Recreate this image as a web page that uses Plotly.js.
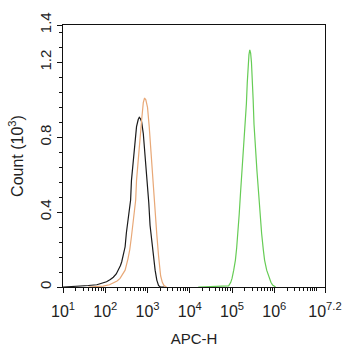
<!DOCTYPE html>
<html>
<head>
<meta charset="utf-8">
<script src="https://cdn.plot.ly/plotly-3.0.1.min.js"></script>
<style>
html,body{margin:0;padding:0;background:#fff;}
#chart{width:342px;height:350px;}
</style>
</head>
<body>
<div id="chart"></div>
<script>
// x values are in decades (log10 of APC-H), y values in thousands of counts
var blackX = [1.0,1.2,1.4,1.6,1.8,1.95,2.03,2.12,2.19,2.26,2.31,2.36,2.39,2.43,2.47,2.5,2.53,2.56,2.6,2.62,2.66,2.7,2.74,2.78,2.805,2.83,2.86,2.9,2.94,2.97,3.0,3.03,3.06,3.1,3.14,3.18,3.22,3.26,3.3,3.4];
var blackY = [0,0.002,0.004,0.008,0.012,0.02,0.028,0.04,0.052,0.07,0.09,0.115,0.135,0.17,0.215,0.29,0.34,0.39,0.465,0.57,0.66,0.77,0.857,0.895,0.907,0.9,0.883,0.82,0.715,0.64,0.55,0.45,0.33,0.24,0.17,0.09,0.037,0.008,0,0];

var orangeX = [1.6,1.8,1.95,2.1,2.19,2.28,2.35,2.42,2.47,2.54,2.58,2.62,2.68,2.72,2.74,2.77,2.8,2.83,2.86,2.9,2.93,2.96,3.0,3.04,3.08,3.11,3.14,3.17,3.19,3.22,3.26,3.29,3.31,3.35,3.39,3.45];
var orangeY = [0,0.002,0.005,0.012,0.02,0.032,0.046,0.068,0.09,0.153,0.2,0.27,0.39,0.465,0.57,0.64,0.715,0.8,0.89,0.985,1.01,1.0,0.96,0.857,0.715,0.62,0.536,0.43,0.358,0.28,0.17,0.1,0.06,0.025,0.008,0];

var greenX = [4.2,4.5,4.8,4.92,4.97,5.0,5.04,5.08,5.11,5.14,5.17,5.2,5.23,5.26,5.29,5.32,5.34,5.36,5.38,5.4,5.42,5.44,5.46,5.48,5.5,5.52,5.55,5.57,5.59,5.63,5.66,5.7,5.74,5.77,5.82,5.87,5.92,5.96,6.03];
var greenY = [0,0.002,0.003,0.006,0.025,0.046,0.09,0.144,0.21,0.287,0.39,0.5,0.6,0.66,0.76,0.875,0.98,1.09,1.18,1.24,1.267,1.25,1.2,1.12,1.0,0.87,0.75,0.68,0.62,0.5,0.39,0.287,0.2,0.144,0.09,0.055,0.025,0.01,0];

var xTickVals = [1,2,3,4,5,6,7.2];
var xTickText = ['10<sup>1</sup>','10<sup>2</sup>','10<sup>3</sup>','10<sup>4</sup>','10<sup>5</sup>','10<sup>6</sup>','10<sup>7.2</sup>'];
var yTickVals = [0,0.4,0.8,1.2,1.4];
var yTickText = ['0','0.4','0.8','1.2','1.4'];

var xMinor = [];
for (var d = 1; d <= 7; d++) {
  for (var k = 2; k <= 9; k++) {
    var v = d + Math.log10(k);
    if (v < 7.2) xMinor.push(v);
  }
}
xMinor.push(7);
var yMinor = [];
for (var i = 0; i <= 17; i++) {
  var yv = Math.round(i * 0.08 * 100) / 100;
  if (yv <= 1.4) yMinor.push(yv);
}

var traces = [
  {x: blackX, y: blackY, mode: 'lines', line: {color: '#1a1a1a', width: 1.2}, hoverinfo: 'skip'},
  {x: orangeX, y: orangeY, mode: 'lines', line: {color: '#e8a877', width: 1.2}, hoverinfo: 'skip'},
  {x: greenX, y: greenY, mode: 'lines', line: {color: '#66cc55', width: 1.2}, hoverinfo: 'skip'}
];

var layout = {
  width: 342, height: 350,
  margin: {l: 63, r: 17, t: 25, b: 63},
  paper_bgcolor: '#fff', plot_bgcolor: '#fff',
  showlegend: false,
  font: {family: 'Liberation Sans, Arial, sans-serif', color: '#222'},
  xaxis: {
    range: [1, 7.2], showgrid: false, zeroline: false,
    showline: true, linecolor: '#111', linewidth: 1, mirror: true,
    tickmode: 'array', tickvals: xTickVals, ticktext: xTickText,
    ticks: 'outside', ticklen: 5, tickcolor: '#111', tickwidth: 1,
    tickangle: 0, ticklabelstandoff: 5,
    tickfont: {size: 16, color: '#222'},
    minor: {tickmode: 'array', tickvals: xMinor, ticks: 'outside', ticklen: 3, tickcolor: '#111', tickwidth: 1},
    title: {text: 'APC-H', font: {size: 15, color: '#222'}, standoff: 14}
  },
  yaxis: {
    range: [0, 1.4], showgrid: false, zeroline: false,
    showline: true, linecolor: '#111', linewidth: 1, mirror: true,
    tickmode: 'array', tickvals: yTickVals, ticktext: yTickText,
    ticks: 'outside', ticklen: 5, tickcolor: '#111', tickwidth: 1,
    tickangle: -90,
    tickfont: {size: 15, color: '#222'},
    minor: {tickmode: 'array', tickvals: yMinor, ticks: 'outside', ticklen: 3, tickcolor: '#111', tickwidth: 1},
    title: {text: 'Count (10<sup>3</sup>)', font: {size: 16, color: '#222'}, standoff: 9}
  }
};

Plotly.newPlot('chart', traces, layout, {displayModeBar: false, staticPlot: true});
</script>
</body>
</html>
